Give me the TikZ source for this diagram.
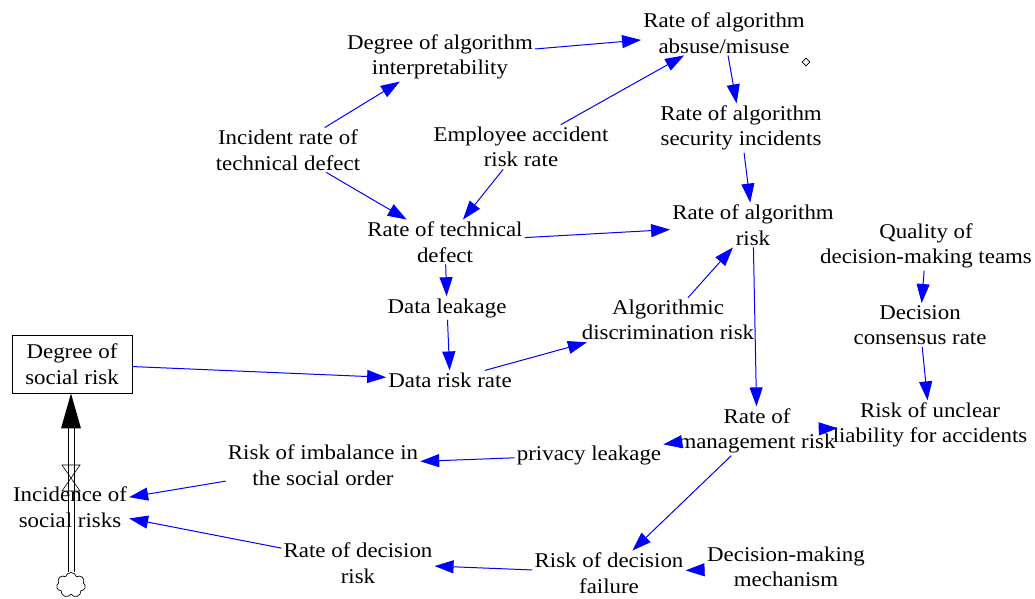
\documentclass[tikz,border=0pt]{standalone}
\usepackage{fontspec}
\setmainfont{Liberation Serif}[FakeStretch=1.09]
\usepackage{tikz}
\usetikzlibrary{positioning, arrows.meta, shapes.symbols, shapes.geometric}

\begin{document}
\begin{tikzpicture}[
            x=1pt, y=-1pt,
            every node/.style={align=center, inner sep=2pt, font=\fontsize{21}{25.5}\selectfont},
            link/.style={draw=blue, line width=1pt, -{Triangle[length=19pt,width=13pt]}},
            level/.style={draw, rectangle, line width=0.8pt, minimum width=120pt, minimum height=58pt},
            pipe/.style={draw=black, line width=0.8pt}
        ]
            \useasboundingbox (0,0) rectangle (1035,598);

            % Variables
            \node (misuse) at (724,33) {Rate of algorithm\\absuse/misuse};
            \node (interp) at (440,57) {Degree of algorithm\\interpretability};
            \node (security) at (741,128) {Rate of algorithm\\security incidents};
            \node (incident) at (288,150) {Incident rate of\\technical defect};
            \node (employee) at (521,147) {Employee accident\\risk rate};
            \node (techdefect) at (445,242) {Rate of technical\\defect};
            \node (algrisk) at (753,225) {Rate of algorithm\\risk};
            \node (quality) at (926,246) {Quality of\\decision-making teams};
            \node (consensus) at (920,325) {Decision\\consensus rate};
            \node (leakage) at (447,308) {Data leakage};
            \node (discrim) at (668,320) {Algorithmic\\discrimination risk};
            \node (datarisk) at (450,380) {Data risk rate};
            \node (mgmtrisk) at (757,431) {Rate of\\management risk};
            \node (liability) at (930,425) {Risk of unclear\\liability for accidents};
            \node (imbalance) at (323,465) {Risk of imbalance in\\the social order};
            \node (privacy) at (589,455) {privacy leakage};
            \node (incidence) at (70,507) {Incidence of\\social risks};
            \node (decrisk) at (358,563) {Rate of decision\\risk};
            \node (failure) at (609,573) {Risk of decision\\failure};
            \node (mechanism) at (786,567) {Decision-making\\mechanism};
            \node[draw, diamond, inner sep=0pt, minimum size=8pt, line width=0.6pt] (marker) at (806,62) {};

            % Stock and flow
            \node[level] (socialrisk) at (72,364) {Degree of\\social risk};
            \node[draw, cloud, cloud puffs=7, inner sep=0pt, minimum width=29pt, minimum height=25pt, line width=0.7pt] (source) at (71,585) {};
            \coordinate (valve) at (71,478);
            \foreach \dx in {-3,3}
                \draw[pipe] ([xshift=\dx pt]source.north) -- ([xshift=\dx pt, yshift=-34pt]source.north |- socialrisk.south);
            \fill (source.north |- socialrisk.south) -- ++(-10,35) -- ++(20,0) -- cycle;
            \draw[line width=0.6pt] ([shift={(-9,-13)}]valve) -- ([shift={(9,-13)}]valve)
                -- ([shift={(-9,13)}]valve) -- ([shift={(9,13)}]valve) -- cycle;

            % Links
            \draw[link] (interp) -- (misuse);
            \draw[link] (incident) -- (interp);
            \draw[link] (employee) -- (misuse);
            \draw[link] (incident) -- (techdefect);
            \draw[link] (employee) -- (techdefect);
            \draw[link] (misuse) -- (security);
            \draw[link] (security) -- (algrisk);
            \draw[link] (techdefect) -- (algrisk);
            \draw[link] (techdefect) -- (leakage);
            \draw[link] (leakage) -- (datarisk);
            \draw[link] (socialrisk) -- (datarisk);
            \draw[link] (datarisk) -- (discrim);
            \draw[link] (discrim) -- (algrisk);
            \draw[link] (algrisk) -- (mgmtrisk);
            \draw[link] (quality) -- (consensus);
            \draw[link] (consensus) -- (liability);
            \draw[link] (liability) -- (mgmtrisk);
            \draw[link] (mgmtrisk) -- (privacy);
            \draw[link] (privacy) -- (imbalance);
            \draw[link] (imbalance) -- (incidence);
            \draw[link] (decrisk) -- (incidence);
            \draw[link] (mgmtrisk) -- (failure);
            \draw[link] (failure) -- (decrisk);
            \draw[link] (mechanism) -- (failure);
        \end{tikzpicture}
\end{document}
